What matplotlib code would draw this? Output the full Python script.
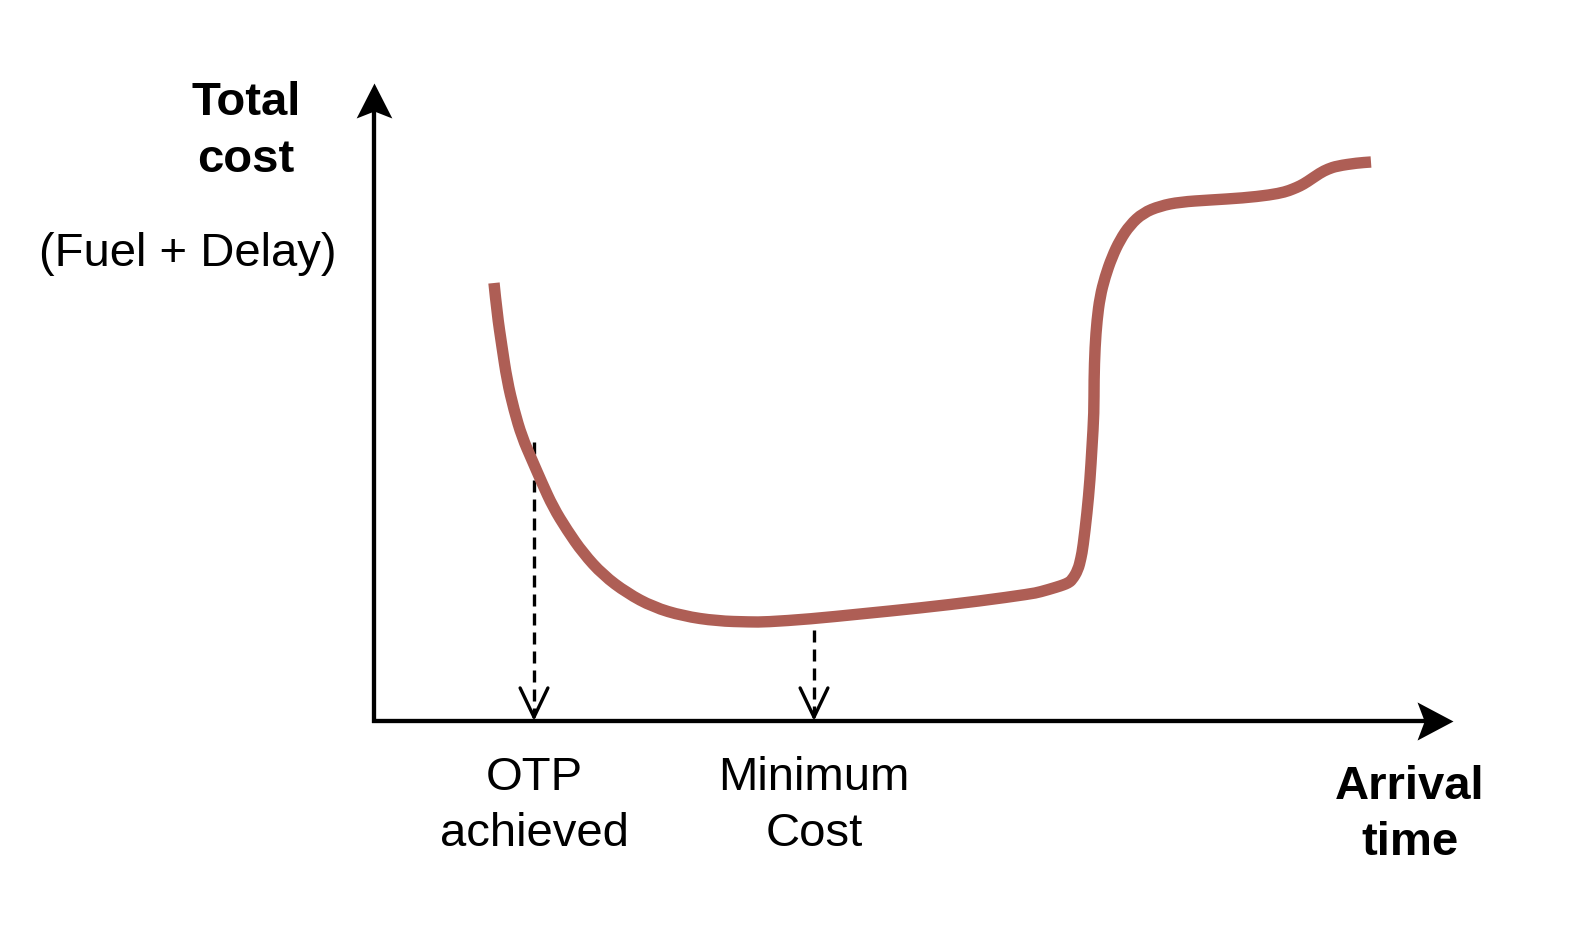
import matplotlib
matplotlib.use("Agg")
import numpy as np
import matplotlib.pyplot as plt
from matplotlib.path import Path
from matplotlib.patches import PathPatch

plt.rcParams['font.family'] = ['Liberation Sans', 'DejaVu Sans']

# total cost curve (arrival time, cost)
arrival = [12.0, 12.3, 12.8, 13.3, 14.0, 14.8, 15.8, 16.8, 17.9, 19.3, 20.9, 22.9,
           25.3, 27.9, 30.9, 34.3, 37.6, 39.2, 43.6, 48.6, 54.6, 60.6, 65.6, 66.6,
           68.3, 68.9, 69.4, 69.8, 70.4, 70.7, 70.9, 71.3, 71.6, 71.8, 72.0, 72.0,
           72.1, 72.3, 72.6, 73.1, 73.8, 74.6, 75.6, 76.9, 78.6, 80.6, 83.6, 86.9,
           89.6, 91.1, 91.9, 92.6, 93.3, 94.6, 95.4, 96.3, 98.3, 99.7]
cost = [43.8, 40.8, 37.4, 34.1, 31.1, 28.4, 26.1, 23.8, 21.4, 19.1, 16.8, 14.6,
        12.8, 11.4, 10.5, 10.0, 9.9, 9.9, 10.2, 10.7, 11.3, 12.0, 12.7, 12.9,
        13.4, 13.6, 13.8, 14.1, 15.1, 16.3, 17.4, 20.8, 24.1, 27.4, 30.8, 34.1,
        37.4, 40.1, 42.4, 44.4, 46.4, 48.1, 49.6, 50.8, 51.5, 51.9, 52.1, 52.3,
        52.6, 52.9, 53.2, 53.5, 53.9, 54.8, 55.2, 55.5, 55.8, 55.9]

# dashed markers down to the time axis: (x, top of the dashed line)
marker_x = [16.0, 44.0]
marker_top = [27.9, 9.1]
marker_labels = [["OTP", "achieved"], ["Minimum", "Cost"]]

x_axis_end = 107.9
y_axis_end = 63.8

curve_color = "#ae5e55"
fs = 34

fig = plt.figure(figsize=(15.76, 9.42), dpi=100)
ax = fig.add_axes([0, 0, 1, 1])
ax.set_xlim(-37.4, 120.2)
ax.set_ylim(-22.1, 72.1)
ax.axis('off')

# arrow heads with a small notch, tip at the marker position
head_up = Path([(0, 0), (0.51, -1), (0, -0.8), (-0.51, -1), (0, 0)],
               [Path.MOVETO, Path.LINETO, Path.LINETO, Path.LINETO, Path.CLOSEPOLY])
head_right = Path([(0, 0), (-1, 0.53), (-0.8, 0), (-1, -0.53), (0, 0)],
                  [Path.MOVETO, Path.LINETO, Path.LINETO, Path.LINETO, Path.CLOSEPOLY])

ax.plot([-0.2, x_axis_end - 2.5], [0, 0], color='black', lw=3.1, solid_capstyle='butt')
ax.plot([0, 0], [-0.2, y_axis_end - 2.5], color='black', lw=3.1, solid_capstyle='butt')
ax.plot([x_axis_end], [0], marker=head_right, ms=51.8, color='black', mew=0)
ax.plot([0], [y_axis_end], marker=head_up, ms=50.4, color='black', mew=0)

# cost curve, drawn as a smooth quadratic path through the read points
pts = np.column_stack([arrival, cost])
verts = [pts[0]]
codes = [Path.MOVETO]
for i in range(1, len(pts) - 1):
    verts += [pts[i], (pts[i] + pts[i + 1]) / 2]
    codes += [Path.CURVE3, Path.CURVE3]
verts.append(pts[-1])
codes.append(Path.LINETO)
ax.add_patch(PathPatch(Path(verts, codes), facecolor='none', edgecolor=curve_color,
                       lw=8.2, capstyle='butt', joinstyle='round', zorder=3))

# dashed drop lines with open heads
for x, top, lines in zip(marker_x, marker_top, marker_labels):
    ax.plot([x, x], [top, 0.8], color='black', lw=2.4, ls=(0, (3.6, 2.1)),
            solid_capstyle='butt', zorder=2)
    ax.annotate('', xy=(x, 0), xytext=(x, 1.0),
                arrowprops=dict(arrowstyle='->,head_length=2.1,head_width=1.0',
                                lw=2.4, color='black', mutation_scale=10,
                                shrinkA=0, shrinkB=0))
    ax.text(x, -6.9, lines[0], fontsize=fs, ha='center', va='baseline')
    ax.text(x, -12.5, lines[1], fontsize=fs, ha='center', va='baseline')

# axis titles
ax.text(-12.8, 60.6, "Total", fontsize=fs, fontweight='bold', ha='center', va='baseline')
ax.text(-12.8, 54.9, "cost", fontsize=fs, fontweight='bold', ha='center', va='baseline')
ax.text(-18.6, 45.5, "(Fuel + Delay)", fontsize=fs, ha='center', va='baseline')
ax.text(103.6, -7.8, "Arrival", fontsize=fs, fontweight='bold', ha='center', va='baseline')
ax.text(103.6, -13.4, "time", fontsize=fs, fontweight='bold', ha='center', va='baseline')

fig.savefig("out.png", dpi=100)
